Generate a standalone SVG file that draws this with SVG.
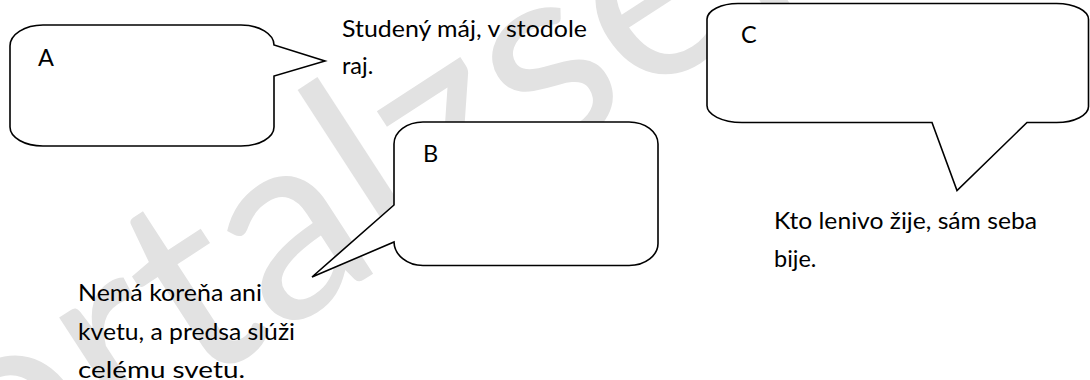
<svg xmlns="http://www.w3.org/2000/svg" width="1090" height="380" viewBox="0 0 1090 380">
  <style>
    .bubble { fill: #ffffff; stroke: #000000; stroke-width: 1.6; stroke-linejoin: miter; }
    .txt { font-family: Lato, "Liberation Sans", sans-serif; font-size: 23.5px; fill: #000000; }
    .wm { font-family: Lato, "Liberation Sans", sans-serif; font-size: 265px; fill: #e2e2e2; }
  </style>
  <rect width="1090" height="380" fill="#ffffff"/>
  <g id="watermark">
    <text class="wm" x="-134" y="603" transform="rotate(-33 -134 603)">portalzsen</text>
  </g>
  <g id="connectors"></g>
  <g id="nodeA">
    <path class="bubble" d="M 43,25 H 241 A 33,20 0 0 1 274,45 L 325,61 L 274,76 V 127 A 33,19 0 0 1 241,146 H 43 A 33,19 0 0 1 10,127 V 46 A 33,21 0 0 1 43,25 Z"/>
    <text class="txt" x="38" y="66">A</text>
  </g>
  <g id="nodeB">
    <path class="bubble" d="M 423,122 H 629 A 29,22 0 0 1 658,144 V 243 A 29,22 0 0 1 629,265.5 H 423 A 29,24 0 0 1 394,242 L 312,277 L 394,205 V 144 A 29,22 0 0 1 423,122 Z"/>
    <text class="txt" x="423" y="162">B</text>
  </g>
  <g id="nodeC">
    <path class="bubble" d="M 738,3.5 H 1056 A 32,16 0 0 1 1088.5,20 V 106 A 32,16 0 0 1 1056,122.5 H 1027 L 957,190.5 L 932,122.5 H 742 A 35,17 0 0 1 707,105 V 19 A 31,16 0 0 1 738,3.5 Z"/>
    <text class="txt" x="741" y="43">C</text>
  </g>
  <g id="sayingA">
    <text class="txt" x="342" y="37" textLength="245" lengthAdjust="spacingAndGlyphs">Studený máj, v stodole</text>
    <text class="txt" x="342" y="74">raj.</text>
  </g>
  <g id="sayingB">
    <text class="txt" x="78" y="301" textLength="184" lengthAdjust="spacingAndGlyphs">Nemá koreňa ani</text>
    <text class="txt" x="78" y="340" textLength="217" lengthAdjust="spacingAndGlyphs">kvetu, a predsa slúži</text>
    <text class="txt" x="78" y="378" textLength="167" lengthAdjust="spacingAndGlyphs">celému svetu.</text>
  </g>
  <g id="sayingC">
    <text class="txt" x="774" y="229" textLength="263" lengthAdjust="spacingAndGlyphs">Kto lenivo žije, sám seba</text>
    <text class="txt" x="774" y="267">bije.</text>
  </g>
</svg>
